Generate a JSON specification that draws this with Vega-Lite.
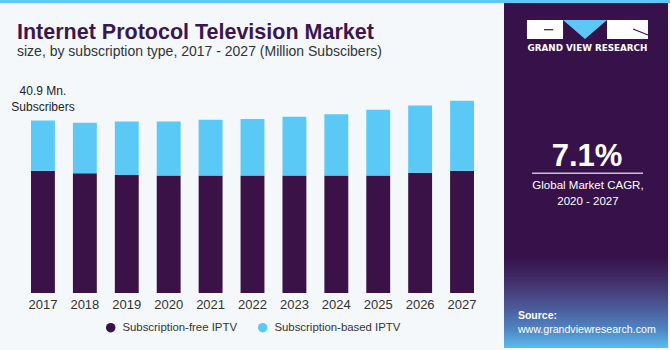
{
  "$schema": "https://vega.github.io/schema/vega-lite/v6.json",
  "background": "#f4f8fb",
  "padding": {"left": 0, "top": 0, "right": 0, "bottom": 2},
  "spacing": 0,
  "bounds": "flush",
  "config": {"view": {"stroke": null}, "font": "Liberation Sans"},
  "vconcat": [
    {
      "width": 670, "height": 3,
      "view": {"fill": "#5bc8f5", "stroke": null},
      "data": {"values": []},
      "mark": "point",
      "encoding": {}
    },
    {
      "spacing": 21,
      "bounds": "flush",
      "resolve": {"scale": {"color": "independent"}, "legend": {"color": "independent"}},
      "hconcat": [
        {"width": 1, "height": 1, "data": {"values": []}, "mark": "point", "encoding": {}},
        {
          "width": 461, "height": 290,
          "title": {
            "text": "Internet Protocol Television Market",
            "subtitle": "size, by subscription type, 2017 - 2027 (Million Subscibers)",
            "anchor": "start", "frame": "group", "dx": -5, "offset": -56,
            "font": "Liberation Sans", "fontSize": 21.5, "fontWeight": "bold", "color": "#3b1650",
            "subtitleFont": "Liberation Sans", "subtitleFontSize": 14, "subtitleColor": "#333333", "subtitlePadding": 2
          },
          "data": {"values": [
            {"year": "2017", "type": "Subscription-free IPTV", "value": 29.0},
            {"year": "2017", "type": "Subscription-based IPTV", "value": 11.9},
            {"year": "2018", "type": "Subscription-free IPTV", "value": 28.4},
            {"year": "2018", "type": "Subscription-based IPTV", "value": 12.0},
            {"year": "2019", "type": "Subscription-free IPTV", "value": 28.0},
            {"year": "2019", "type": "Subscription-based IPTV", "value": 12.7},
            {"year": "2020", "type": "Subscription-free IPTV", "value": 27.9},
            {"year": "2020", "type": "Subscription-based IPTV", "value": 12.8},
            {"year": "2021", "type": "Subscription-free IPTV", "value": 27.9},
            {"year": "2021", "type": "Subscription-based IPTV", "value": 13.2},
            {"year": "2022", "type": "Subscription-free IPTV", "value": 27.9},
            {"year": "2022", "type": "Subscription-based IPTV", "value": 13.4},
            {"year": "2023", "type": "Subscription-free IPTV", "value": 27.9},
            {"year": "2023", "type": "Subscription-based IPTV", "value": 13.9},
            {"year": "2024", "type": "Subscription-free IPTV", "value": 27.9},
            {"year": "2024", "type": "Subscription-based IPTV", "value": 14.5},
            {"year": "2025", "type": "Subscription-free IPTV", "value": 27.9},
            {"year": "2025", "type": "Subscription-based IPTV", "value": 15.6},
            {"year": "2026", "type": "Subscription-free IPTV", "value": 28.5},
            {"year": "2026", "type": "Subscription-based IPTV", "value": 16.0},
            {"year": "2027", "type": "Subscription-free IPTV", "value": 29.0},
            {"year": "2027", "type": "Subscription-based IPTV", "value": 16.6}
          ]},
          "encoding": {
            "x": {
              "field": "year", "type": "ordinal",
              "scale": {"paddingInner": 0.43, "paddingOuter": 0.215},
              "axis": {"title": null, "labelAngle": 0, "ticks": false, "tickSize": 0, "domain": false, "labelPadding": 5, "labelFontSize": 13, "labelColor": "#333333", "labelFont": "Liberation Sans"}
            }
          },
          "layer": [
            {
              "mark": {"type": "bar"},
              "encoding": {
                "y": {"field": "value", "type": "quantitative", "stack": "zero", "scale": {"domain": [0, 68.8], "nice": false}, "axis": null},
                "color": {
                  "field": "type", "type": "nominal",
                  "scale": {"domain": ["Subscription-free IPTV", "Subscription-based IPTV"], "range": ["#3a1248", "#5bc9f5"]},
                  "legend": {"orient": "none", "legendX": 83, "legendY": 318.5, "title": null, "direction": "horizontal", "symbolType": "circle", "symbolSize": 90, "labelFontSize": 11.4, "labelFont": "Liberation Sans", "labelColor": "#333333", "columnPadding": 20, "labelOffset": 6, "padding": 0}
                },
                "order": {"field": "type", "sort": "descending"}
              }
            },
            {
              "data": {"values": [{"year": "2017", "total": 40.9, "label": "40.9 Mn.\nSubscribers"}]},
              "mark": {"type": "text", "baseline": "bottom", "dy": -23, "fontSize": 12, "lineHeight": 16, "lineBreak": "\n", "color": "#222222", "font": "Liberation Sans"},
              "encoding": {
                "y": {"field": "total", "type": "quantitative"},
                "text": {"field": "label"}
              }
            }
          ]
        },
        {
          "width": 164, "height": 345,
          "view": {"fill": "#37124a", "stroke": null},
          "layer": [
            {
              "data": {"values": [{}]},
              "mark": {"type": "rect", "fill": {"gradient": "linear", "x1": 0, "y1": 0, "x2": 0, "y2": 1, "stops": [
                {"offset": 0, "color": "#37124a"},
                {"offset": 0.3, "color": "#433470"},
                {"offset": 0.55, "color": "#4a5a98"},
                {"offset": 0.8, "color": "#4f86c4"},
                {"offset": 1, "color": "#5cbcee"}
              ]}},
              "encoding": {
                "x": {"datum": 0, "type": "quantitative", "scale": {"domain": [0, 100]}, "axis": null},
                "x2": {"datum": 100},
                "y": {"datum": 73.9, "type": "quantitative", "scale": {"domain": [0, 100], "reverse": true}, "axis": null},
                "y2": {"datum": 100}
              }
            },
            {
              "data": {"values": [{}]},
              "mark": {"type": "rect", "fill": "#ffffff"},
              "encoding": {
                "x": {"datum": 14.0, "type": "quantitative", "scale": {"domain": [0, 100]}, "axis": null},
                "x2": {"datum": 36.0},
                "y": {"datum": 4.93, "type": "quantitative", "scale": {"domain": [0, 100], "reverse": true}, "axis": null},
                "y2": {"datum": 10.43}
              }
            },
            {
              "data": {"values": [{}]},
              "mark": {"type": "rect", "fill": "#ffffff"},
              "encoding": {
                "x": {"datum": 62.8, "type": "quantitative", "scale": {"domain": [0, 100]}, "axis": null},
                "x2": {"datum": 87.8},
                "y": {"datum": 4.93, "type": "quantitative", "scale": {"domain": [0, 100], "reverse": true}, "axis": null},
                "y2": {"datum": 10.43}
              }
            },
            {
              "data": {"values": [{}]},
              "mark": {"type": "point", "filled": true, "opacity": 1, "color": "#5bc8f5", "shape": "M-1,-0.432L1,-0.432L0,0.432Z", "size": 1936},
              "encoding": {
                "x": {"datum": 49.4, "type": "quantitative", "scale": {"domain": [0, 100]}, "axis": null},
                "y": {"datum": 7.68, "type": "quantitative", "scale": {"domain": [0, 100], "reverse": true}, "axis": null}
              }
            },
            {
              "data": {"values": [{}]},
              "mark": {"type": "rule", "color": "#37124a", "strokeWidth": 1.2},
              "encoding": {
                "x": {"datum": 24.4, "type": "quantitative", "scale": {"domain": [0, 100]}, "axis": null},
                "x2": {"datum": 30.0},
                "y": {"datum": 7.74, "type": "quantitative", "scale": {"domain": [0, 100], "reverse": true}, "axis": null},
                "y2": {"datum": 7.74}
              }
            },
            {
              "data": {"values": [{}]},
              "mark": {"type": "rule", "color": "#37124a", "strokeWidth": 1.2},
              "encoding": {
                "x": {"datum": 78.7, "type": "quantitative", "scale": {"domain": [0, 100]}, "axis": null},
                "x2": {"datum": 87.8},
                "y": {"datum": 7.54, "type": "quantitative", "scale": {"domain": [0, 100], "reverse": true}, "axis": null},
                "y2": {"datum": 9.28}
              }
            },
            {
              "data": {"values": [{"t": "GRAND VIEW RESEARCH"}]},
              "mark": {"type": "text", "color": "#ffffff", "fontSize": 8.8, "fontWeight": "bold", "align": "center", "baseline": "alphabetic", "font": "DejaVu Sans"},
              "encoding": {
                "x": {"datum": 50.9, "type": "quantitative", "scale": {"domain": [0, 100]}, "axis": null},
                "y": {"datum": 14.0, "type": "quantitative", "scale": {"domain": [0, 100], "reverse": true}, "axis": null},
                "text": {"field": "t"}
              }
            },
            {
              "data": {"values": [{"t": "7.1%"}]},
              "mark": {"type": "text", "color": "#ffffff", "fontSize": 31, "fontWeight": "bold", "align": "center", "baseline": "alphabetic", "font": "Liberation Sans"},
              "encoding": {
                "x": {"datum": 50.6, "type": "quantitative", "scale": {"domain": [0, 100]}, "axis": null},
                "y": {"datum": 47.25, "type": "quantitative", "scale": {"domain": [0, 100], "reverse": true}, "axis": null},
                "text": {"field": "t"}
              }
            },
            {
              "data": {"values": [{}]},
              "mark": {"type": "rule", "color": "#c9c0d3", "strokeWidth": 1.5},
              "encoding": {
                "x": {"datum": 17.1, "type": "quantitative", "scale": {"domain": [0, 100]}, "axis": null},
                "x2": {"datum": 84.8},
                "y": {"datum": 49.36, "type": "quantitative", "scale": {"domain": [0, 100], "reverse": true}, "axis": null},
                "y2": {"datum": 49.36}
              }
            },
            {
              "data": {"values": [{"t": "Global Market CAGR,\n2020 - 2027"}]},
              "mark": {"type": "text", "color": "#ffffff", "fontSize": 11.5, "lineHeight": 15.7, "lineBreak": "\n", "align": "center", "baseline": "alphabetic", "font": "Liberation Sans"},
              "encoding": {
                "x": {"datum": 51.2, "type": "quantitative", "scale": {"domain": [0, 100]}, "axis": null},
                "y": {"datum": 54.0, "type": "quantitative", "scale": {"domain": [0, 100], "reverse": true}, "axis": null},
                "text": {"field": "t"}
              }
            },
            {
              "data": {"values": [{"t": "Source:"}]},
              "mark": {"type": "text", "color": "#ffffff", "fontSize": 10.5, "fontWeight": "bold", "align": "left", "baseline": "alphabetic", "font": "Liberation Sans"},
              "encoding": {
                "x": {"datum": 8.5, "type": "quantitative", "scale": {"domain": [0, 100]}, "axis": null},
                "y": {"datum": 91.7, "type": "quantitative", "scale": {"domain": [0, 100], "reverse": true}, "axis": null},
                "text": {"field": "t"}
              }
            },
            {
              "data": {"values": [{"t": "www.grandviewresearch.com"}]},
              "mark": {"type": "text", "color": "#ffffff", "fontSize": 10.6, "align": "left", "baseline": "alphabetic", "font": "Liberation Sans"},
              "encoding": {
                "x": {"datum": 8.5, "type": "quantitative", "scale": {"domain": [0, 100]}, "axis": null},
                "y": {"datum": 95.56, "type": "quantitative", "scale": {"domain": [0, 100], "reverse": true}, "axis": null},
                "text": {"field": "t"}
              }
            }
          ]
        }
      ]
    }
  ]
}
